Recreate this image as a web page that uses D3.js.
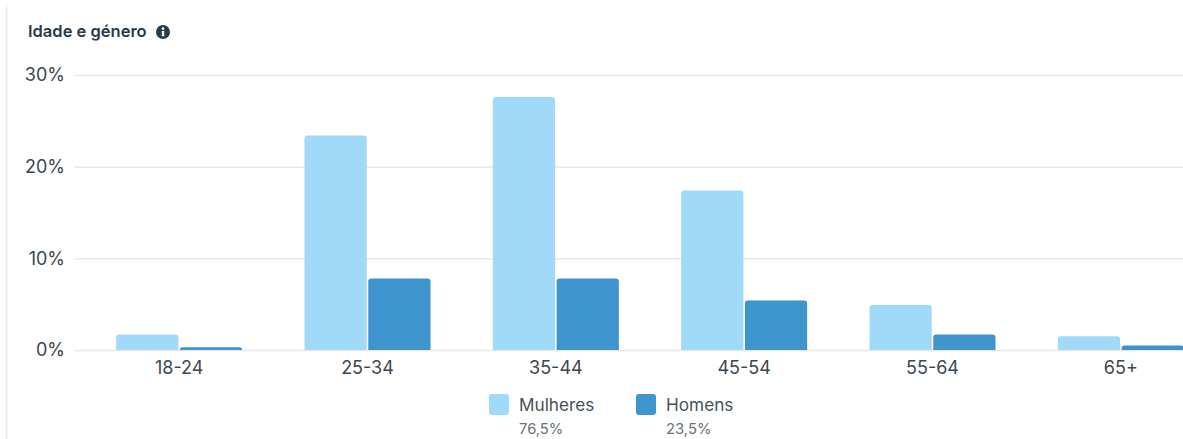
<!DOCTYPE html>
<html><head><meta charset="utf-8">
<script src="https://cdn.jsdelivr.net/npm/d3@7"></script>
<style>html,body{margin:0;padding:0;background:#fff;overflow:hidden}svg{display:block;font-family:"Inter","Noto Sans",sans-serif}</style>
</head><body><svg id="c" width="1183" height="439"></svg>
<script>
const categories = ["18-24","25-34","35-44","45-54","55-64","65+"];
const women = [1.7,23.4,27.6,17.4,4.9,1.5];
const men = [0.3,7.8,7.8,5.4,1.7,0.5];
const yTicks = [0,10,20,30];
const seriesNames = ["Mulheres","Homens"];
const seriesShares = ["76,5%","23,5%"];
const colors = ["#a1d9f8","#3e94cd"];

const svg = d3.select("#c");
const y = d3.scaleLinear().domain([0,30]).range([350,75]);
const x = d3.scaleBand().domain(categories).range([85,1215]);
const inner = d3.scaleBand().domain([0,1]).range([x.bandwidth()/2-63,x.bandwidth()/2+63]).paddingInner(0.024);

// panel edge
svg.append("line").attr("x1",6.5).attr("x2",6.5).attr("y1",5).attr("y2",439).attr("stroke","#e6e9f8").attr("stroke-width",1.5);

svg.append("text").attr("x",28).attr("y",37).attr("font-size",16.5).attr("font-weight",600).attr("fill","#2c3a47").text("Idade e género");
const info = svg.append("g").attr("transform","translate(163,32)");
info.append("circle").attr("r",7).attr("fill","#2c3a47");
info.append("circle").attr("cy",-3.4).attr("r",1.3).attr("fill","#fff");
info.append("rect").attr("x",-1.2).attr("y",-1).attr("width",2.4).attr("height",5.2).attr("fill","#fff");

const yAxis = d3.axisLeft(y).tickValues(yTicks).tickFormat(d=>d+"%").tickSize(-1108).tickPadding(10);
const gy = svg.append("g").attr("transform","translate(75,0)").call(yAxis);
gy.select(".domain").remove();
gy.selectAll(".tick line").attr("stroke","#e6e8eb").attr("stroke-width",1.5);
gy.selectAll(".tick text").attr("x",-10).attr("font-size",18).attr("font-family","Inter,sans-serif").attr("fill","#3c4750");

const groups = svg.append("g").selectAll("g").data(categories).join("g").attr("transform",d=>`translate(${x(d)},0)`);
const barPath = (x0,w,y0,y1)=>{const r=Math.min(3,(y1-y0));return `M${x0},${y1}V${y0+r}Q${x0},${y0} ${x0+r},${y0}H${x0+w-r}Q${x0+w},${y0} ${x0+w},${y0+r}V${y1}Z`;};
[women,men].forEach((vals,s)=>{
  groups.append("path").attr("fill",colors[s])
    .attr("d",(d,i)=>barPath(inner(s),inner.bandwidth(),y(vals[i]),y(0)));
});

const xAxis = d3.axisBottom(x).tickSize(0).tickPadding(11);
const gx = svg.append("g").attr("transform","translate(0,350)").call(xAxis);
gx.select(".domain").remove();
gx.selectAll(".tick text").attr("font-size",18).attr("font-family","Inter,sans-serif").attr("fill","#3c4750");

const legendX = [489,636];
seriesNames.forEach((n,i)=>{
  const g = svg.append("g").attr("transform",`translate(${legendX[i]},0)`);
  g.append("rect").attr("y",394).attr("width",20).attr("height",21).attr("rx",3).attr("fill",colors[i]);
  g.append("text").attr("x",30).attr("y",411).attr("font-size",17.2).attr("fill","#46525c").text(n);
  g.append("text").attr("x",30).attr("y",434).attr("font-size",14.8).attr("fill","#66727c").text(seriesShares[i]);
});
</script></body></html>
